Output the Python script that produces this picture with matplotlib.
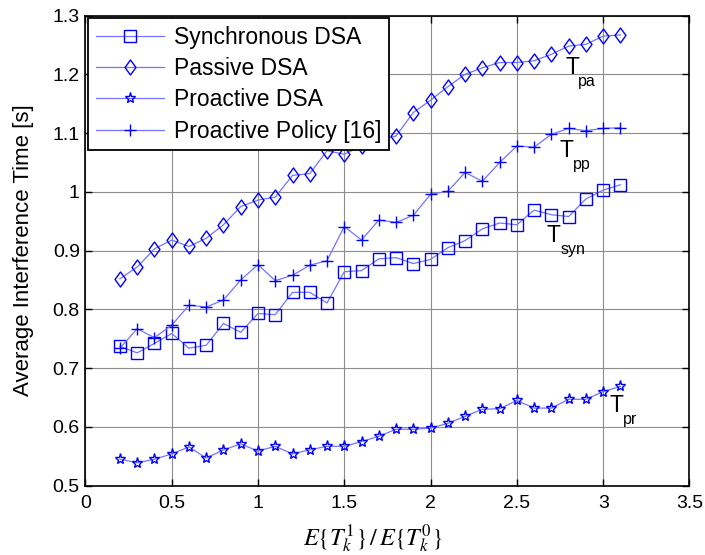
import numpy as np
import matplotlib
matplotlib.use("Agg")
from matplotlib import pyplot as plt
from matplotlib.path import Path

plt.rcParams["font.family"] = ["Liberation Sans", "DejaVu Sans"]
plt.rcParams["mathtext.fontset"] = "stix"

# x axis: ratio E{T1}/E{T0}
ratio = [0.2, 0.3, 0.4, 0.5, 0.6, 0.7, 0.8, 0.9, 1.0, 1.1,
         1.2, 1.3, 1.4, 1.5, 1.6, 1.7, 1.8, 1.9, 2.0, 2.1,
         2.2, 2.3, 2.4, 2.5, 2.6, 2.7, 2.8, 2.9, 3.0, 3.1]

sync_dsa = [0.737, 0.726, 0.742, 0.759, 0.734, 0.739, 0.776, 0.761, 0.793, 0.791,
            0.829, 0.829, 0.811, 0.864, 0.866, 0.886, 0.888, 0.878, 0.885, 0.905,
            0.917, 0.937, 0.947, 0.944, 0.969, 0.961, 0.958, 0.988, 1.003, 1.012]

passive_dsa = [0.852, 0.872, 0.903, 0.918, 0.907, 0.921, 0.944, 0.975, 0.986, 0.991,
               1.028, 1.031, 1.070, 1.064, 1.078, 1.088, 1.095, 1.135, 1.156, 1.179,
               1.200, 1.211, 1.220, 1.220, 1.223, 1.234, 1.248, 1.251, 1.265, 1.267]

proactive_dsa = [0.545, 0.539, 0.545, 0.554, 0.566, 0.547, 0.561, 0.571, 0.559, 0.567,
                 0.554, 0.561, 0.567, 0.567, 0.575, 0.584, 0.596, 0.596, 0.598, 0.606,
                 0.618, 0.630, 0.631, 0.645, 0.632, 0.632, 0.647, 0.647, 0.660, 0.669]

proactive_policy = [0.734, 0.767, 0.752, 0.773, 0.807, 0.804, 0.816, 0.850, 0.876, 0.849,
                    0.858, 0.875, 0.883, 0.941, 0.918, 0.952, 0.948, 0.960, 0.996, 1.001,
                    1.033, 1.018, 1.050, 1.078, 1.076, 1.098, 1.108, 1.104, 1.108, 1.109]

labels = ["Synchronous DSA", "Passive DSA", "Proactive DSA", "Proactive Policy [16]"]

# curve tags: (text, subscript, x, y)
tags = [("T", "pa", 2.779, 1.2007),
        ("T", "pp", 2.746, 1.0586),
        ("T", "syn", 2.673, 0.914),
        ("T", "pr", 3.039, 0.6256)]

# MATLAB-like diamond (taller than wide)
diamond = Path([(0, 1), (0.73, 0), (0, -1), (-0.73, 0), (0, 1)],
               [Path.MOVETO, Path.LINETO, Path.LINETO, Path.LINETO, Path.CLOSEPOLY])

line_kw = dict(color="#7474ff", lw=0.9, markeredgecolor="#0000ff",
               markerfacecolor="none", markeredgewidth=1.0)

fig = plt.figure(figsize=(7.05, 5.55), dpi=100)
ax = fig.add_axes([0.1211, 0.1249, 0.8569, 0.8471])

ax.plot(ratio, sync_dsa, marker="s", markersize=8.5, label=labels[0], **line_kw)
ax.plot(ratio, passive_dsa, marker=diamond, markersize=10.8, label=labels[1], **line_kw)
ax.plot(ratio, proactive_dsa, marker="*", markersize=8, label=labels[2], **line_kw)
ax.plot(ratio, proactive_policy, marker="+", markersize=9, label=labels[3], **line_kw)

for t, sub, x, y in tags:
    ax.text(x, y, t, fontsize=16.5, ha="left", va="baseline")
    ax.annotate(sub, xy=(x, y), xytext=(9.6, -8.6), textcoords="offset points",
                fontsize=11.5, ha="left", va="baseline")

ax.set_xlim(0, 3.5)
ax.set_ylim(0.5, 1.3)
ax.set_xticks(np.arange(0, 3.51, 0.5))
ax.set_yticks(np.arange(0.5, 1.301, 0.1))
ax.xaxis.set_major_formatter(matplotlib.ticker.FormatStrFormatter("%g"))
ax.yaxis.set_major_formatter(matplotlib.ticker.FormatStrFormatter("%g"))
ax.tick_params(direction="in", top=True, right=True, length=5, width=1,
               labelsize=14)
ax.tick_params(axis="x", pad=7)
ax.tick_params(axis="y", pad=4)
ax.grid(True, color="0.55", lw=0.8)
ax.set_axisbelow(True)
for sp in ax.spines.values():
    sp.set_linewidth(1.2)

ax.set_xlabel(r"$E\{T_k^1\}\,/\,E\{T_k^0\}$", fontsize=17.5)
ax.xaxis.set_label_coords(0.476, -0.078)
ax.set_ylabel("Average Interference Time [s]", fontsize=16)
ax.yaxis.set_label_coords(-0.085, 0.5)

leg = ax.legend(loc="upper left", fontsize=16.5, frameon=True, fancybox=False,
                edgecolor="black", framealpha=1, borderaxespad=0.12,
                borderpad=0.33, labelspacing=0.36, handlelength=3.0,
                handletextpad=0.4)
leg.get_frame().set_linewidth(1.3)

fig.savefig("out.png", dpi=100)
